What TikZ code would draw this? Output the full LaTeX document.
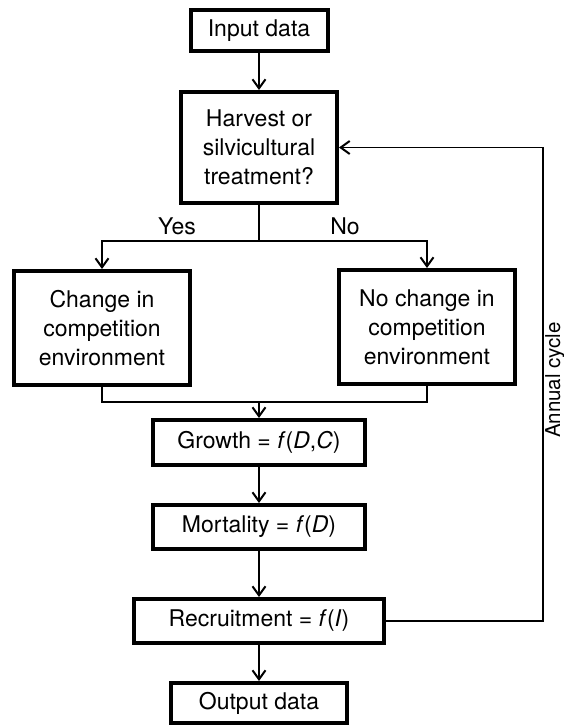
\documentclass[tikz,border=0pt]{standalone}
\usepackage{fontspec}
\setmainfont{TeX Gyre Heros}
\usetikzlibrary{arrows.meta}
\begin{document}
\begin{tikzpicture}[x=1pt,y=-1pt,
  box/.style={draw, line width=4pt, rectangle, inner sep=0pt, align=center,
    font=\fontsize{23}{29}\selectfont},
  conn/.style={line width=2pt},
  arr/.style={conn, -{Straight Barb[length=9pt,width=13pt,line width=2pt]}},
  lbl/.style={font=\fontsize{23}{29}\selectfont, inner sep=0pt}
]
\fill[white] (0,0) rectangle (564,726);
\useasboundingbox (0,0) rectangle (564,726);

\node[box, minimum width=137pt, minimum height=41pt] (input) at (259,30.5) {Input data};
\node[box, minimum width=156pt, minimum height=111pt] (harvest) at (259,147.5) {Harvest or\\silvicultural\\treatment?};
\node[box, minimum width=176pt, minimum height=114pt] (left) at (102,328) {Change in\\competition\\environment};
\node[box, minimum width=176pt, minimum height=114pt] (right) at (427,327) {No change in\\competition\\environment};
\node[box, minimum width=212pt, minimum height=45pt] (growth) at (259,442.5) {Growth = \textit{f}(\textit{D},\textit{C})};
\node[box, minimum width=212pt, minimum height=44pt] (mort) at (259,527) {Mortality = \textit{f}(\textit{D})};
\node[box, minimum width=250pt, minimum height=44pt] (recr) at (259,621) {Recruitment = \textit{f}(\textit{I})};
\node[box, minimum width=176pt, minimum height=40pt] (output) at (259,703) {Output data};

\node[lbl] (yes) at (177,226) {Yes};
\node[lbl] (no) at (345,226) {No};
\node[lbl, font=\fontsize{20.5}{24}\selectfont, rotate=90, anchor=north] (annual) at (545,380) {Annual cycle};

\coordinate (split) at (259,241);
\coordinate (merge) at (259,402);
\coordinate (fb) at (543,147.5);

\draw[arr] (input) -- (harvest);
\draw[conn] (harvest) -- (split);
\draw[arr] (split) -| (left);
\draw[arr] (split) -| (right);
\draw[conn] (left) |- (merge);
\draw[conn] (right) |- (merge);
\draw[arr] (merge) -- (growth);
\draw[arr] (growth) -- (mort);
\draw[arr] (mort) -- (recr);
\draw[arr] (recr) -- (output);
\draw[arr, line width=1.5pt] (recr.east) -| (fb) -- (harvest.east);
\end{tikzpicture}
\end{document}
